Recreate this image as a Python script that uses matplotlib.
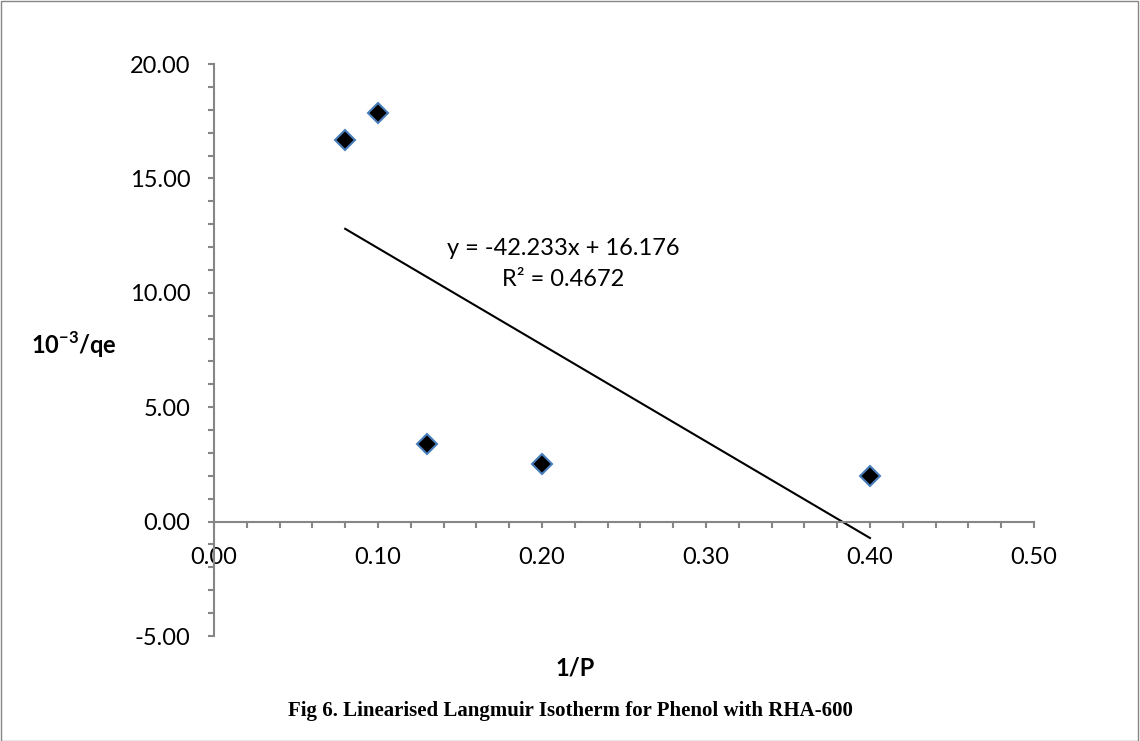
import matplotlib.pyplot as plt
from matplotlib.patches import Rectangle
from matplotlib.ticker import MultipleLocator, FormatStrFormatter

# Langmuir data for phenol on RHA-600
inv_p = [0.08, 0.10, 0.13, 0.20, 0.40]
inv_qe = [16.67, 17.86, 3.40, 2.50, 2.00]

# fitted trendline
slope = -42.233
intercept = 16.176
r_squared = 0.4672

plt.rcParams['font.family'] = ['Lato', 'DejaVu Sans']

fig = plt.figure(figsize=(11.4, 7.41), dpi=100)
ax = fig.add_axes([0.1877, 0.1417, 0.7193, 0.7719])

axis_grey = '#868686'

ax.plot(inv_p, inv_qe, linestyle='none', marker='D', markersize=10,
        markerfacecolor='black', markeredgecolor='#4a7ebb', markeredgewidth=1.5, zorder=3)

x_fit = [min(inv_p), max(inv_p)]
y_fit = [slope * x + intercept for x in x_fit]
ax.plot(x_fit, y_fit, color='black', linewidth=1.5, zorder=2)

ax.text(0.2128, 11.25, 'y = {:.3f}x + {:.3f}\nR² = {}'.format(slope, intercept, r_squared),
        ha='center', va='center', fontsize=17, linespacing=1.6, multialignment='center')

ax.set_xlim(0, 0.5)
ax.set_ylim(-5, 20)
ax.xaxis.set_major_locator(MultipleLocator(0.1))
ax.xaxis.set_minor_locator(MultipleLocator(0.02))
ax.yaxis.set_major_locator(MultipleLocator(5))
ax.yaxis.set_minor_locator(MultipleLocator(1))
ax.xaxis.set_major_formatter(FormatStrFormatter('%.2f'))
ax.yaxis.set_major_formatter(FormatStrFormatter('%.2f'))

for side in ['top', 'right']:
    ax.spines[side].set_visible(False)
ax.spines['bottom'].set_position(('data', 0))
for side in ['left', 'bottom']:
    ax.spines[side].set_color(axis_grey)
    ax.spines[side].set_linewidth(1.5)

ax.tick_params(which='both', direction='out', length=4.5, width=1.5, color=axis_grey,
               labelsize=17, labelcolor='black')
ax.tick_params(axis='y', pad=12.5)
ax.tick_params(axis='x', pad=13.5)

ax.set_xlabel('1/P', fontsize=17, fontweight='bold')
ax.set_ylabel('10$^{\\mathregular{-3}}$/qe', fontsize=17, fontweight='bold',
              rotation=0, ha='right', va='center')
ax.yaxis.set_label_coords(-0.118, 0.509)
ax.xaxis.set_label_coords(0.44, -0.036)

fig.text(0.5, 0.04, 'Fig 6. Linearised Langmuir Isotherm for Phenol with RHA-600',
         ha='center', va='center', fontsize=15, fontweight='bold',
         family=['Liberation Serif', 'DejaVu Serif'])

fig.patches.append(Rectangle((0.001, 0.0), 0.997, 0.998, transform=fig.transFigure,
                             fill=False, edgecolor=axis_grey, linewidth=1))

fig.savefig('out.png', dpi=100)
